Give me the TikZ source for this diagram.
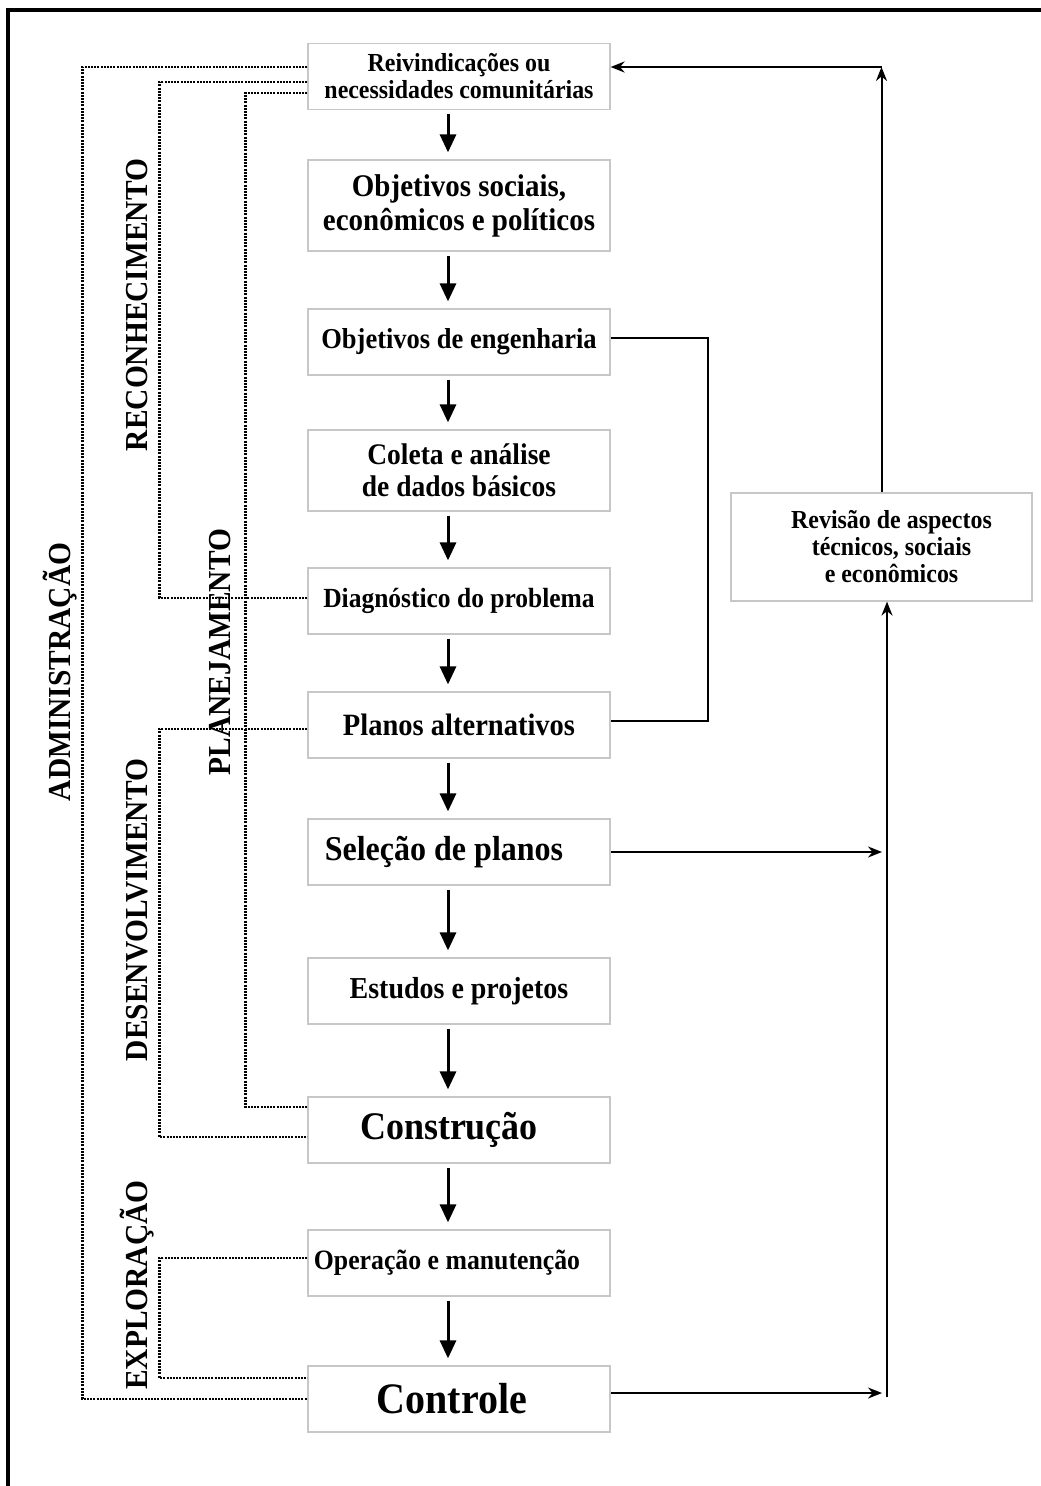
\documentclass[tikz,border=0pt]{standalone}
\usepackage{fontspec}
\setmainfont{Liberation Serif}[FakeStretch=0.92]
\usetikzlibrary{arrows.meta,positioning}

\newcommand{\fs}[2]{\bfseries\fontsize{#1}{#2}\selectfont}

\tikzset{
  box/.style={draw=black!22, line width=1.2pt, minimum width=302pt, minimum height=66pt,
    inner sep=0pt, align=center},
  flow/.style={line width=3pt, -{Triangle[length=18pt,width=16pt]},
    shorten <=4pt, shorten >=7pt},
  link/.style={line width=2pt},
  linkarr/.style={line width=2pt, -{Stealth[length=14pt,width=11pt]}},
  dotline/.style={line width=2.4pt, black, dash pattern=on 2pt off 1.2pt},
  phase/.style={rotate=90, font=\fs{32}{33}}
}

\begin{document}
\begin{tikzpicture}[x=1pt,y=-1pt]
  \useasboundingbox (0,0) rectangle (1041,1486);

  % Frame
  \draw[line width=4pt] (8,1486) -- (8,10) -- (1041,10);

  % Main column
  \node[box, font=\fs{26}{27}] (b1) at (459,76.5) {Reivindicações ou\\necessidades comunitárias};
  \node[box, minimum height=91pt, font=\fs{31.5}{34}] (b2) at (459,205.5) {Objetivos sociais,\\econômicos e políticos};
  \node[box, font=\fs{28.8}{30}] (b3) at (459,342) {Objetivos de engenharia};
  \node[box, minimum height=81pt, font=\fs{29.9}{32}] (b4) at (459,470.5) {Coleta e análise\\de dados básicos};
  \node[box, font=\fs{27.7}{30}] (b5) at (459,601) {Diagnóstico do problema};
  \node[box, font=\fs{31}{32}] (b6) at (459,725) {Planos alternativos};
  \node[box, font=\fs{34.8}{36}] (b7) at (459,852) {Seleção de planos\hspace*{30pt}};
  \node[box, font=\fs{30.4}{32}] (b8) at (459,991) {Estudos e projetos};
  \node[box, font=\fs{39.1}{40}] (b9) at (459,1130) {Construção\hspace*{20pt}};
  \node[box, font=\fs{28}{30}] (b10) at (459,1263) {Operação e manutenção\hspace*{24pt}};
  \node[box, font=\fs{43.5}{45}] (b11) at (459,1399) {Controle\hspace*{14pt}};

  % Review box
  \node[box, minimum width=301pt, minimum height=108pt, font=\fs{26}{27}] (rev) at (881.5,547)
    {\hspace*{20pt}Revisão de aspectos\\\hspace*{20pt}técnicos, sociais\\\hspace*{20pt}e econômicos};

  % Down arrows
  \foreach \a/\b in {b1/b2,b2/b3,b3/b4,b4/b5,b5/b6,b6/b7,b7/b8,b8/b9,b9/b10,b10/b11}
    \draw[flow] ([xshift=-11pt]\a.south) -- ([xshift=-11pt]\b.north);

  % Phase labels
  \node[phase] (adm) at (60,672) {ADMINISTRAÇÃO};
  \node[phase] (rec) at (137,305) {RECONHECIMENTO};
  \node[phase] (pla) at (220,652) {PLANEJAMENTO};
  \node[phase] (des) at (137,910) {DESENVOLVIMENTO};
  \node[phase] (exp) at (137,1285) {EXPLORAÇÃO};

  % Dotted brackets
  \draw[dotline] ([yshift=9.5pt]b1.west) -- ++(-225,0) |- (b11.west);
  \draw[dotline] ([yshift=-5.5pt]b1.west) -- ++(-148,0) |- ([yshift=3pt]b5.west);
  \draw[dotline] ([yshift=-16.5pt]b1.west) -- ++(-62,0) |- ([yshift=23pt]b9.west);
  \draw[dotline] ([yshift=-4pt]b6.west) -- ++(-148,0) |- ([yshift=-7pt]b9.west);
  \draw[dotline] ([yshift=5pt]b10.west) -- ++(-148,0) |- ([yshift=21pt]b11.west);

  % Loop on the right
  \draw[link] ([yshift=4pt]b3.east) -- ++(97,0) |- ([yshift=4pt]b6.east);

  % Feedback through the review
  \coordinate (top) at (881.5,67);
  \coordinate (bot) at (887,1397);
  \draw[linkarr] (rev.north) -- (top);
  \draw[linkarr] (top) -- (top -| b1.east);
  \draw[linkarr] (bot) -- (bot |- rev.south);
  \draw[linkarr, shorten >=5pt] (b7.east) -- (b7.east -| bot);
  \draw[linkarr, shorten >=5pt] ([yshift=6pt]b11.east) -- ([yshift=6pt]b11.east -| bot);
\end{tikzpicture}
\end{document}
